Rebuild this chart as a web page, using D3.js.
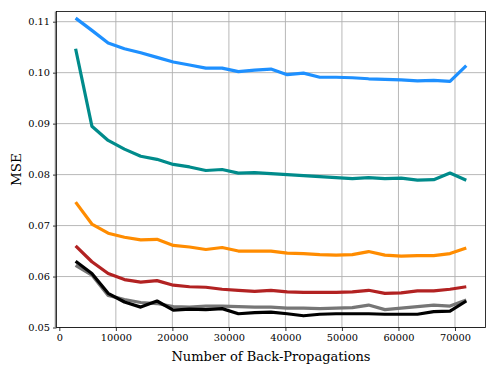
<!DOCTYPE html>
<html>
<head>
<meta charset="utf-8">
<script src="https://cdn.jsdelivr.net/npm/d3@7"></script>
<style>
  body { margin: 0; background: #fff; }
  svg text { font-family: "DejaVu Serif", "Liberation Serif", serif; fill: #000; }
  .grid line { stroke: #b0b0b0; stroke-width: 0.9; }
  .axis path { display: none; }
  .axis line { stroke: #000; stroke-width: 0.8; }
</style>
</head>
<body>
<div class="main"></div>
<script>
const step = 2880;
const steps = d3.range(1, 26).map(k => k * step);

const blue   = [0.1107, 0.1083, 0.1058, 0.1047, 0.1039, 0.1030, 0.1021, 0.1015, 0.1009, 0.1009, 0.1002, 0.1005, 0.1007,
                0.0996, 0.0999, 0.0991, 0.0991, 0.0990, 0.0988, 0.0987, 0.0986, 0.0984, 0.0985, 0.0983, 0.1014];
const teal   = [0.1047, 0.0895, 0.0867, 0.0850, 0.0836, 0.0830, 0.0820, 0.0815, 0.0808, 0.0810, 0.0803, 0.0804, 0.0802,
                0.0800, 0.0798, 0.0796, 0.0794, 0.0792, 0.0794, 0.0792, 0.0793, 0.0789, 0.0790, 0.0803, 0.0789];
const orange = [0.0746, 0.0703, 0.0685, 0.0677, 0.0672, 0.0673, 0.0661, 0.0658, 0.0653, 0.0657, 0.0650, 0.0650, 0.0650,
                0.0646, 0.0645, 0.0643, 0.0642, 0.0643, 0.0649, 0.0642, 0.0640, 0.0641, 0.0641, 0.0645, 0.0656];
const red    = [0.0660, 0.0629, 0.0606, 0.0594, 0.0589, 0.0592, 0.0583, 0.0580, 0.0579, 0.0575, 0.0573, 0.0571, 0.0573,
                0.0570, 0.0569, 0.0569, 0.0569, 0.0570, 0.0573, 0.0567, 0.0568, 0.0572, 0.0572, 0.0575, 0.0580];
const gray   = [0.0622, 0.0603, 0.0563, 0.0555, 0.0549, 0.0547, 0.0541, 0.0540, 0.0542, 0.0542, 0.0541, 0.0540, 0.0540,
                0.0538, 0.0538, 0.0537, 0.0538, 0.0539, 0.0544, 0.0535, 0.0538, 0.0541, 0.0544, 0.0542, 0.0554];
const black  = [0.0630, 0.0606, 0.0567, 0.0550, 0.0540, 0.0552, 0.0534, 0.0536, 0.0535, 0.0537, 0.0527, 0.0529, 0.0530,
                0.0527, 0.0523, 0.0526, 0.0527, 0.0527, 0.0527, 0.0526, 0.0526, 0.0526, 0.0531, 0.0532, 0.0552];

const series = [
  {values: blue,   color: "#1e90ff"},
  {values: teal,   color: "#008b8b"},
  {values: orange, color: "#ff8c00"},
  {values: red,    color: "#b22222"},
  {values: gray,   color: "#767676"},
  {values: black,  color: "#000000"}
];

const xTicks = [0, 10000, 20000, 30000, 40000, 50000, 60000, 70000];
const yTicks = [0.05, 0.06, 0.07, 0.08, 0.09, 0.10, 0.11];

const svgWidth = 498, svgHeight = 374,
    margin = {top: 11.5, right: 12.5, bottom: 46.5, left: 56.5},
    width = svgWidth - margin.left - margin.right,
    height = svgHeight - margin.top - margin.bottom;

let svg = d3.select("body>.main").append("svg")
    .attr("width", svgWidth)
    .attr("height", svgHeight)
  .append("g")
    .attr("transform", "translate(" + margin.left + "," + margin.top + ")");

let x = d3.scaleLinear().domain([-500, 75400]).range([0, width]),
    y = d3.scaleLinear().domain([0.05, 0.112]).range([height, 0]);

// grid
svg.append("g").attr("class", "grid")
  .selectAll("line.gx").data(xTicks.filter(d => d > 0)).enter().append("line")
    .attr("x1", d => x(d)).attr("x2", d => x(d))
    .attr("y1", 0).attr("y2", height);
svg.select(".grid")
  .selectAll("line.gy").data(yTicks).enter().append("line")
    .attr("x1", 0).attr("x2", width)
    .attr("y1", d => y(d)).attr("y2", d => y(d));

// lines
let line = d3.line()
    .x((d, i) => x(steps[i]))
    .y(d => y(d));

svg.append("g").attr("class", "lines")
  .selectAll("path").data(series).enter().append("path")
    .attr("d", d => line(d.values))
    .attr("fill", "none")
    .attr("stroke", d => d.color)
    .attr("stroke-width", 3.2)
    .attr("stroke-linejoin", "round");

// axes
svg.append("g").attr("class", "x axis")
    .attr("transform", "translate(0," + height + ")")
    .call(d3.axisBottom(x).tickValues(xTicks).tickSize(3.5).tickPadding(3).tickFormat(d3.format("d")))
    .selectAll("text").style("font-size", "9.8px");

svg.append("g").attr("class", "y axis")
    .call(d3.axisLeft(y).tickValues(yTicks).tickSize(3.5).tickPadding(3).tickFormat(d3.format(".2f")))
    .selectAll("text").style("font-size", "9.8px");

// frame
svg.append("rect")
    .attr("width", width).attr("height", height)
    .attr("fill", "none").attr("stroke", "#000").attr("stroke-width", 0.8);
svg.append("line")
    .attr("x1", -1.2).attr("x2", -1.2).attr("y1", 0).attr("y2", height)
    .attr("stroke", "#444").attr("stroke-width", 0.8);

// labels
svg.append("text")
    .attr("x", width / 2).attr("y", height + 33)
    .attr("text-anchor", "middle")
    .style("font-size", "13px")
    .text("Number of Back-Propagations");

svg.append("text")
    .attr("transform", "translate(" + (-36) + "," + (height / 2) + ") rotate(-90)")
    .attr("text-anchor", "middle")
    .style("font-size", "13.5px")
    .text("MSE");
</script>
</body>
</html>
